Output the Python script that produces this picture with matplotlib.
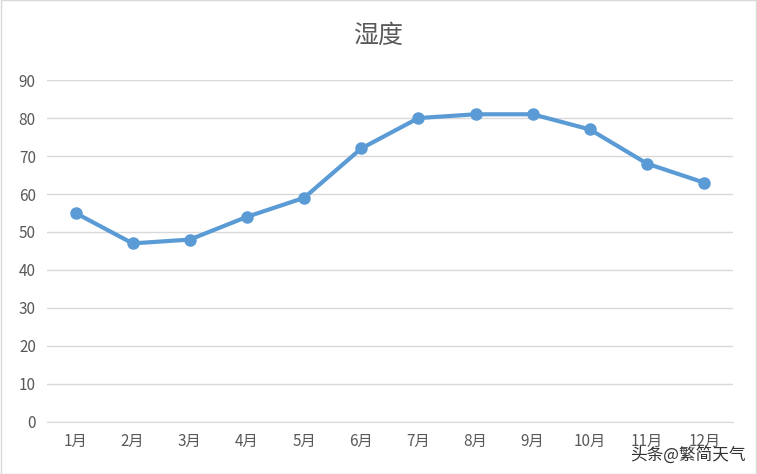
import matplotlib.pyplot as plt
from matplotlib.patches import Rectangle

plt.rcParams['font.family'] = ['Noto Sans CJK SC', 'DejaVu Sans']

months = ['1月', '2月', '3月', '4月', '5月', '6月', '7月', '8月', '9月', '10月', '11月', '12月']
humidity = [55, 47, 48, 54, 59, 72, 80, 81, 81, 77, 68, 63]
yticks = [0, 10, 20, 30, 40, 50, 60, 70, 80, 90]

fig = plt.figure(figsize=(7.57, 4.74), dpi=100)
ax = fig.add_axes([0.062, 0.110, 0.906, 0.721])

x = range(len(months))
ax.plot(x, humidity, color='#5B9BD5', linewidth=3, marker='o', markersize=8, zorder=3)

ax.set_xlim(-0.5, len(months) - 0.5)
ax.set_ylim(0, 90)
ax.set_yticks(yticks)
ax.set_xticks(list(x))
ax.set_xticklabels(months)
ax.grid(axis='y', color='#D9D9D9', linewidth=1)
ax.set_axisbelow(True)
for s in ['top', 'right', 'left']:
    ax.spines[s].set_visible(False)
ax.spines['bottom'].set_color('#D9D9D9')
ax.tick_params(length=0, labelsize=11, colors='#595959', pad=8)

fig.text(0.5, 0.925, '湿度', ha='center', va='center', fontsize=18, color='#595959')
# watermark, it overlaps the last tick labels in the original too
fig.text(0.985, 0.04, '头条@繁简天气', ha='right', va='center', fontsize=12, color='#333333')

fig.patches.append(Rectangle((0.001, 0.001), 0.998, 0.998, transform=fig.transFigure,
                             fill=False, edgecolor='#D9D9D9', linewidth=1))

fig.savefig('out.png', dpi=100)
